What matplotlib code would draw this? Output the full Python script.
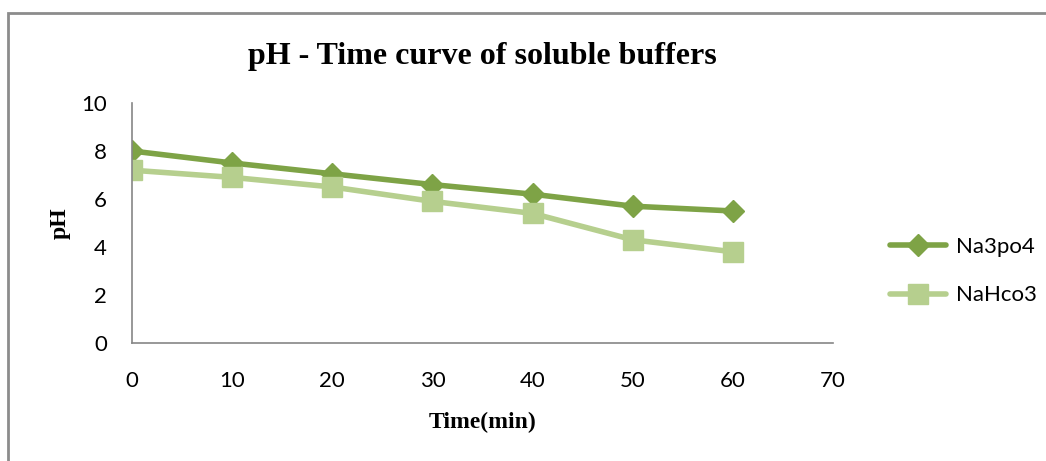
import matplotlib.pyplot as plt
from matplotlib.patches import Rectangle

# data
time_min = [0, 10, 20, 30, 40, 50, 60]
na3po4 = [8.0, 7.5, 7.05, 6.6, 6.2, 5.7, 5.5]
nahco3 = [7.2, 6.9, 6.5, 5.9, 5.4, 4.3, 3.8]

DARK = '#7ea346'
LIGHT = '#b6cf8e'
TICK_FONT = 'Lato'

fig = plt.figure(figsize=(10.46, 4.61), dpi=100)
ax = fig.add_axes([0.1262, 0.256, 0.6702, 0.5206])

ax.plot(time_min, na3po4, color=DARK, lw=4, marker='D', ms=11,
        label='Na3po4', solid_capstyle='round')
ax.plot(time_min, nahco3, color=LIGHT, lw=4, marker='s', ms=14,
        label='NaHco3', solid_capstyle='round')

ax.set_xlim(0, 70)
ax.set_ylim(0, 10)
ax.set_xticks(range(0, 71, 10))
ax.set_yticks(range(0, 11, 2))
ax.tick_params(length=0, labelsize=16)
ax.tick_params(axis='x', pad=20)
ax.tick_params(axis='y', pad=18)
for lab in ax.get_xticklabels() + ax.get_yticklabels():
    lab.set_family(TICK_FONT)

for s in ['top', 'right']:
    ax.spines[s].set_visible(False)
for s in ['left', 'bottom']:
    ax.spines[s].set_color('#868686')
    ax.spines[s].set_linewidth(1.2)

ax.set_title('pH - Time curve of soluble buffers', family='Liberation Serif',
             fontweight='bold', fontsize=23, pad=28)
ax.set_xlabel('Time(min)', family='Liberation Serif', fontweight='bold',
              fontsize=17)
ax.set_ylabel('pH', family='Liberation Serif', fontweight='bold',
              fontsize=17)
ax.xaxis.set_label_coords(0.5, -0.285)
ax.yaxis.set_label_coords(-0.087, 0.5)

leg = ax.legend(loc='center left', bbox_to_anchor=(1.053, 0.30), frameon=False,
                prop={'family': TICK_FONT, 'size': 16}, handlelength=2.5,
                labelspacing=1.3, handletextpad=0.45)

# outer chart frame (right and bottom edges run off the image)
fig.patches.append(Rectangle((8 / 1046, -0.1), 1.1, (461 - 13) / 461 + 0.1,
                             transform=fig.transFigure, fill=False,
                             edgecolor='#8c8c8c', lw=2))

fig.savefig('out.png', dpi=100)
